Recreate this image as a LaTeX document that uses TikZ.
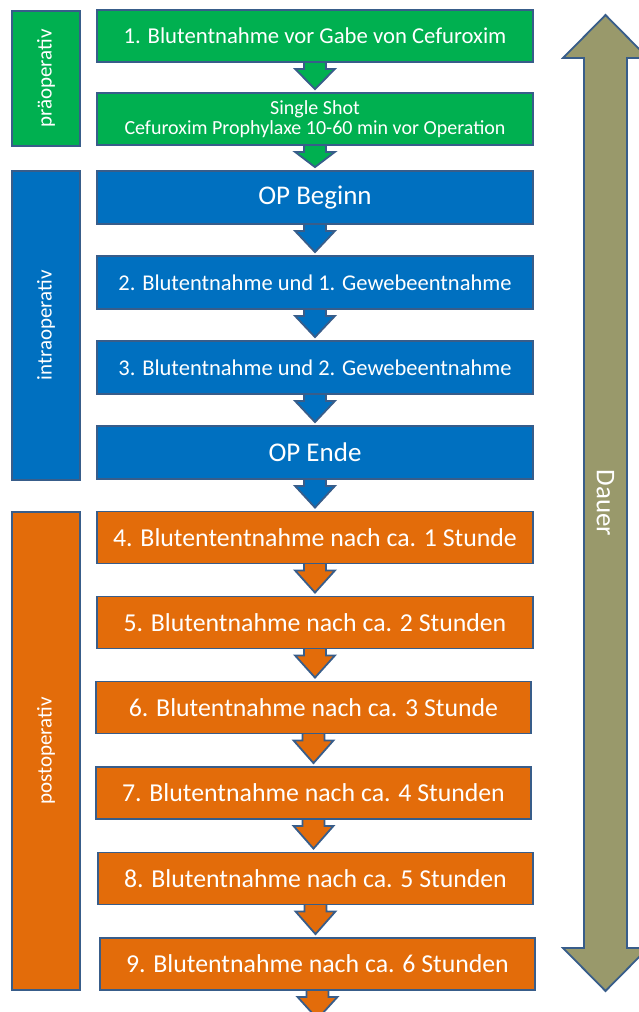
\documentclass[tikz,border=0pt]{standalone}
\usepackage{fontspec}
\setmainfont{Carlito}
\usepackage{tikz}
\usetikzlibrary{calc,backgrounds}
\usepackage{xcolor}
\definecolor{stepgreen}{RGB}{0,176,80}
\definecolor{stepblue}{RGB}{0,112,192}
\definecolor{steporange}{RGB}{227,108,10}
\definecolor{timeolive}{RGB}{153,153,107}
\definecolor{edgeblue}{RGB}{56,93,138}
\tikzset{
  stepbox/.style={draw=edgeblue,line width=1.8pt,minimum width=436pt,minimum height=52pt,
    inner sep=2pt,align=center,text=white,font=\fontsize{22.7}{26}\selectfont},
  stepg/.style={stepbox,fill=stepgreen},
  stepb/.style={stepbox,fill=stepblue,font=\fontsize{22.5}{26}\selectfont},
  stepo/.style={stepbox,fill=steporange,font=\fontsize{25.8}{30}\selectfont},
  phasebox/.style={draw=edgeblue,line width=1.8pt,minimum height=68pt,rotate=90,
    inner sep=2pt,text=white,font=\fontsize{21}{25}\selectfont},
  flowarrow/.style={draw=edgeblue,line width=1.8pt,line join=miter},
  timearrow/.style={draw=edgeblue,line width=1.8pt,fill=timeolive,line join=miter}
}
% down arrow between two steps: fill, from box, to point
\newcommand{\flowarrow}[3]{%
  \draw[flowarrow,fill=#1] let \p1=(#2.south), \p2=(#3) in
    (\x1-11pt,\y1+3pt) -- (\x1-11pt,\y1-6pt) -- (\x1-20pt,\y1-6pt) -- (\x1,\y2+3pt)
    -- (\x1+20pt,\y1-6pt) -- (\x1+11pt,\y1-6pt) -- (\x1+11pt,\y1+3pt) -- cycle;}

\begin{document}
\begin{tikzpicture}[x=1pt,y=-1pt]
  \useasboundingbox (0,0) rectangle (639,1012);
  % phases
  \node[phasebox,fill=stepgreen,minimum width=135pt] (prae) at (46,78.5) {präoperativ};
  \node[phasebox,fill=stepblue,minimum width=309pt] (intra) at (46,325.5) {intraoperativ};
  \node[phasebox,fill=steporange,minimum width=478pt] (post) at (46,751) {postoperativ};
  % steps
  \node[stepg] (pre1) at (315,36) {1. Blutentnahme vor Gabe von Cefuroxim};
  \node[stepg,font=\fontsize{20}{20.5}\selectfont] (pre2) at (315,119)
    {Single Shot\\Cefuroxim Prophylaxe 10-60 min vor Operation};
  \node[stepb,font=\fontsize{27}{30}\selectfont,minimum height=53pt] (opstart) at (315,197.5) {OP Beginn};
  \node[stepb,minimum height=53pt] (intra1) at (315,282.5) {2. Blutentnahme und 1. Gewebeentnahme};
  \node[stepb,minimum height=53pt] (intra2) at (315,367.5) {3. Blutentnahme und 2. Gewebeentnahme};
  \node[stepb,font=\fontsize{27}{30}\selectfont,minimum height=53pt] (opend) at (315,452.5) {OP Ende};
  \node[stepo] (post1) at (315,537.5) {4. Blutententnahme nach ca. 1 Stunde};
  \node[stepo] (post2) at (315,622.5) {5. Blutentnahme nach ca. 2 Stunden};
  \node[stepo,minimum width=435pt] (post3) at (313.5,707.5) {6. Blutentnahme nach ca. 3 Stunde};
  \node[stepo,minimum width=435pt] (post4) at (313.5,793) {7. Blutentnahme nach ca. 4 Stunden};
  \node[stepo,minimum width=435pt] (post5) at (315.5,878.5) {8. Blutentnahme nach ca. 5 Stunden};
  \node[stepo,minimum width=435pt] (post6) at (317.5,964) {9. Blutentnahme nach ca. 6 Stunden};
  \coordinate (tail) at ($(post6.south)+(0,31)$);
  % flow
  \begin{scope}[on background layer]
    \flowarrow{stepgreen}{pre1}{pre2.north}
    \flowarrow{stepgreen}{pre2}{opstart.north}
    \flowarrow{stepblue}{opstart}{intra1.north}
    \flowarrow{stepblue}{intra1}{intra2.north}
    \flowarrow{stepblue}{intra2}{opend.north}
    \flowarrow{stepblue}{opend}{post1.north}
    \flowarrow{steporange}{post1}{post2.north}
    \flowarrow{steporange}{post2}{post3.north}
    \flowarrow{steporange}{post3}{post4.north}
    \flowarrow{steporange}{post4}{post5.north}
    \flowarrow{steporange}{post5}{post6.north}
    \flowarrow{steporange}{post6}{tail}
  \end{scope}
  % duration
  \draw[timearrow] (605.5,15) -- (563,58) -- (584,58) -- (584,948) -- (563,948) -- (605.5,991)
    -- (648,948) -- (627,948) -- (627,58) -- (648,58) -- cycle;
  \node[text=white,rotate=-90,font=\fontsize{27}{30}\selectfont] (dauer) at (605.5,503) {Dauer};
\end{tikzpicture}
\end{document}
